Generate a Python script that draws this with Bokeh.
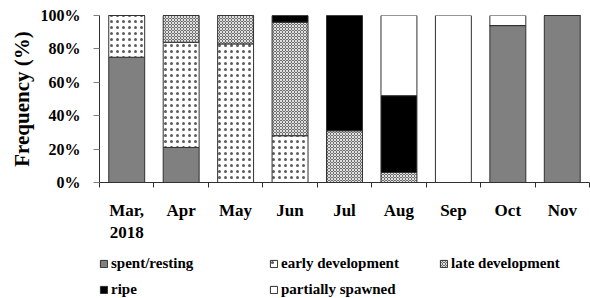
from bokeh.plotting import figure
from bokeh.layouts import column
from bokeh.models import FixedTicker, PrintfTickFormatter, Legend, LegendItem, ColumnDataSource
from bokeh.embed import file_html
from bokeh.resources import INLINE

months = ["Mar,\n2018", "Apr", "May", "Jun", "Jul", "Aug", "Sep", "Oct", "Nov"]
spent = [75, 21, 0, 0, 0, 0, 0, 94, 100]
early = [25, 63, 83, 28, 0, 0, 0, 0, 0]
late = [0, 16, 17, 68, 31, 6, 0, 0, 0]
ripe = [0, 0, 0, 4, 69, 46, 0, 0, 0]
partial = [0, 0, 0, 0, 0, 48, 100, 6, 0]
series = ["spent", "early", "late", "ripe", "partial"]
labels = ["spent/resting", "early development", "late development", "ripe", "partially spawned"]
y_ticks = [0, 20, 40, 60, 80, 100]

xpos = [i + 0.5 for i in range(len(months))]
src = ColumnDataSource(dict(x=xpos, spent=spent, early=early, late=late, ripe=ripe, partial=partial))

FONT = "Liberation Serif"
styles = dict(fill_color=["#808080", "white", "#6e6e6e", "black", "white"],
              hatch_pattern=[" ", ".", "x", " ", " "],
              hatch_color=["black", "#333333", "white", "black", "black"],
              hatch_scale=[4, 6, 3, 4, 4],
              hatch_weight=[1, 1, 0.8, 1, 1],
              hatch_alpha=[1, 0.8, 1, 1, 1])

p = figure(width=590, height=245, x_range=(0, len(months)), y_range=(0, 100),
           output_backend="svg", toolbar_location=None,
           min_border_left=99, min_border_top=15, min_border_right=1, min_border_bottom=56)
p.outline_line_color = None
p.grid.grid_line_color = None

renderers = p.vbar_stack(series, x="x", width=0.66, source=src,
                         line_color="#303030", line_width=1, **styles)

# x axis
xa = p.xaxis[0]
xa.ticker = FixedTicker(ticks=xpos, minor_ticks=list(range(len(months) + 1)))
xa.major_label_overrides = {x: m for x, m in zip(xpos, months)}
xa.major_tick_out = 0
xa.major_tick_in = 0
xa.minor_tick_out = 5
xa.minor_tick_in = 0
xa.minor_tick_line_color = "#303030"
xa.axis_line_color = "#303030"
xa.major_label_text_font = FONT
xa.major_label_text_font_style = "bold"
xa.major_label_text_font_size = "17px"
xa.major_label_text_color = "black"
xa.major_label_standoff = 13

# y axis
ya = p.yaxis[0]
ya.ticker = FixedTicker(ticks=y_ticks)
ya.formatter = PrintfTickFormatter(format="%d%%")
ya.major_tick_out = 6
ya.major_tick_in = 0
ya.minor_tick_line_color = None
ya.major_tick_line_color = "#808080"
ya.axis_line_color = "#303030"
ya.major_label_text_font = FONT
ya.major_label_text_font_style = "bold"
ya.major_label_text_font_size = "16px"
ya.major_label_text_color = "black"
ya.major_label_standoff = 13
ya.axis_label = "Frequency (%)"
ya.axis_label_text_font = FONT
ya.axis_label_text_font_style = "bold"
ya.axis_label_text_font_size = "21px"
ya.axis_label_text_color = "black"
ya.axis_label_standoff = 4

# legend figure (its frame is aligned with the chart's frame)
lg = figure(width=590, height=53, x_range=(0, 1), y_range=(1, 2),
            output_backend="svg", toolbar_location=None,
            min_border_left=99, min_border_top=0, min_border_right=1, min_border_bottom=0)
lg.axis.visible = False
lg.grid.grid_line_color = None
lg.outline_line_color = None
# swatch renderers for the legend only: zero-height bars below the visible range
dummy_src = ColumnDataSource(dict(x=[0.5], spent=[0], early=[0], late=[0], ripe=[0], partial=[0]))
dummy = lg.vbar_stack(series, x="x", width=0.1, source=dummy_src,
                      line_color="#303030", line_width=1, **styles)
items = [LegendItem(label=l, renderers=[r]) for l, r in zip(labels, dummy)]
legend = Legend(items=items, orientation="horizontal", ncols=3,
                location=(0, 0), border_line_color=None, background_fill_alpha=0,
                label_text_font=FONT, label_text_font_style="bold", label_text_font_size="15px",
                label_text_color="black",
                glyph_width=9, glyph_height=9, label_width=149, label_height=16,
                label_standoff=3, spacing=9, padding=1, margin=0)
lg.add_layout(legend, "center")

open("out.html", "w").write(file_html(column(p, lg, spacing=0), INLINE))
